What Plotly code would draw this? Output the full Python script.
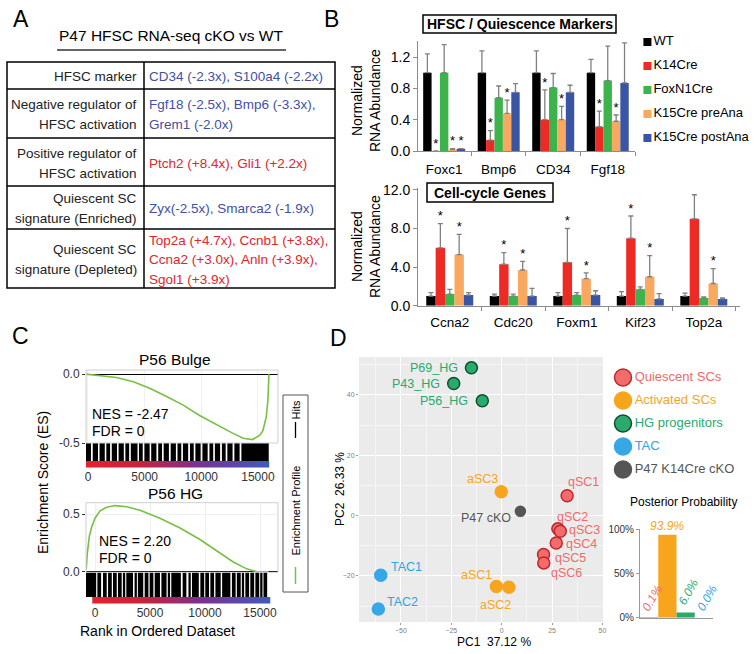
import plotly.graph_objects as go

FONT = "Liberation Sans, Arial, sans-serif"
W, H = 754, 654


def px(x):
    return x / W


def py(y):
    return 1 - y / H


# ---------------- data ----------------
# panel A table
table_left = [["HFSC marker"],
              ["Negative regulator of", "HFSC activation"],
              ["Positive regulator of", "HFSC activation"],
              ["Quiescent SC", "signature (Enriched)"],
              ["Quiescent SC", "signature (Depleted)"]]
table_right = [["CD34 (-2.3x), S100a4 (-2.2x)"],
               ["Fgf18 (-2.5x), Bmp6 (-3.3x),", "Grem1 (-2.0x)"],
               ["Ptch2 (+8.4x), Gli1 (+2.2x)"],
               ["Zyx(-2.5x), Smarca2 (-1.9x)"],
               ["Top2a (+4.7x), Ccnb1 (+3.8x),", "Ccna2 (+3.0x), Anln (+3.9x),", "Sgol1 (+3.9x)"]]
table_dir = ["down", "down", "up", "down", "up"]

# panel B
series = ["WT", "K14Cre", "FoxN1Cre", "K15Cre preAna", "K15Cre postAna"]
series_colors = ["#000000", "#EE2A24", "#3CB44B", "#F9A860", "#3A55A4"]

top_genes = ["Foxc1", "Bmp6", "CD34", "Fgf18"]
top_vals = [[1.0, 1.0, 1.0, 1.0],
            [0.0, 0.14, 0.40, 0.31],
            [1.0, 0.68, 0.81, 0.90],
            [0.02, 0.48, 0.40, 0.38],
            [0.03, 0.75, 0.75, 0.87]]
top_err = [[1.24, 1.28, 1.28, 1.17],
           [None, 0.26, 0.78, 0.51],
           [1.36, 0.83, 0.99, 1.34],
           [0.03, 0.65, 0.57, 0.46],
           [0.03, 0.86, 0.84, 1.38]]
top_star = [[0, 0, 0, 0], [1, 1, 1, 1], [0, 0, 0, 0], [1, 1, 1, 1], [1, 0, 0, 0]]

cc_genes = ["Ccna2", "Cdc20", "Foxm1", "Kif23", "Top2a"]
cc_vals = [[1.0, 1.0, 1.0, 1.0, 1.0],
           [6.0, 4.3, 4.5, 7.0, 9.0],
           [1.2, 1.0, 1.1, 1.7, 0.8],
           [5.3, 3.7, 2.8, 3.0, 2.3],
           [1.1, 1.0, 1.1, 0.7, 0.7]]
cc_err = [[1.35, 1.2, 1.35, 1.45, 1.3],
          [8.5, 5.5, 8.0, 9.3, 11.5],
          [1.7, 1.2, 1.35, 1.95, 0.9],
          [7.4, 4.6, 3.4, 5.2, 3.85],
          [1.35, 1.8, 1.55, 1.25, 0.8]]
cc_star = [[0] * 5, [1] * 5, [0] * 5, [1] * 5, [0] * 5]

# panel C: GSEA running enrichment score + hits
rank_ticks = [0, 5000, 10000, 15000]
bulge_rank = [-180, 1000, 2500, 4000, 5400, 6900, 8400, 9850, 11300, 12800,
              13700, 14500, 15150, 15440, 15735, 15880, 15970]
bulge_es = [0.0, -0.01, -0.025, -0.055, -0.10, -0.16, -0.225, -0.30, -0.365, -0.43,
            -0.465, -0.475, -0.445, -0.41, -0.31, -0.19, 0.0]
bulge_hits = [-100, 30, 160, 520, 650, 780, 1120, 1250, 1380, 1720, 1850, 2200, 2330,
              2460, 2800, 2930, 3060, 3400, 3530, 3880, 4010, 4140, 4270, 4600, 4730,
              5080, 5210, 5340, 5680, 5810, 5940, 6300, 6430, 6780, 6910, 7040, 7400,
              7530, 7660, 8000, 8130, 8480, 8610, 8740, 9100, 9230, 9580, 9710, 9840,
              10200, 10330, 10460, 10820, 10950, 11300, 11430, 11560, 11920, 12050,
              12400, 12530, 12660, 13020, 13150, 13280, 13640, 13770, 13900, 14030,
              14160, 14290, 14420, 14550, 14680, 14810, 14940, 15070, 15200, 15330,
              15460, 15590, 15720, 15850]

hg_rank = [-800, -700, -515, -300, 0, 455, 1060, 1820, 2880, 4090, 5900, 7730,
           9540, 11060, 12570, 13790, 14700, 15760]
hg_es = [0.02, 0.16, 0.31, 0.39, 0.465, 0.53, 0.56, 0.575, 0.565, 0.535, 0.465,
         0.38, 0.28, 0.18, 0.085, 0.025, 0.0, 0.0]
hg_hits = [-750, -620, -490, -360, -230, -100, 0, 320, 450, 830, 960, 1290, 1420,
           1740, 1870, 2190, 2320, 2640, 2950, 3080, 3210, 3350, 3700, 4000, 4130,
           4280, 4620, 4750, 5070, 5200, 5530, 5660, 5800, 6140, 6270, 6400, 6720,
           7040, 7170, 7300, 7430, 7560, 7700, 8070, 8200, 8600, 8920, 9050, 9180,
           9330, 9680, 9820, 10130, 10260, 10590, 10720, 11050, 11180, 11320, 11660,
           11790, 11920, 12050, 12200, 12550, 12680, 13000, 13140, 13450, 13770,
           13900, 14220, 14360, 14680, 14820, 15120, 15420, 15545]

gradient_ranks = list(range(-150, 16000, 200))

# panel D: PCA
groups = ["Quiescent SCs", "Activated SCs", "HG progenitors", "TAC", "P47 K14Cre cKO"]
pca_names = [["qSC1", "qSC2", "qSC3", "qSC4", "qSC5", "qSC6"],
             ["aSC1", "aSC2", "aSC3"],
             ["P69_HG", "P43_HG", "P56_HG"],
             ["TAC1", "TAC2"],
             ["P47 cKO"]]
pca_pc1 = [[32.5, 27.9, 29.1, 27.1, 20.8, 20.9],
           [-2.6, 3.6, -0.2],
           [-15.0, -23.8, -9.6],
           [-60.0, -61.2],
           [9.3]]
pca_pc2 = [[6.6, -4.4, -5.2, -9.1, -12.9, -15.7],
           [-23.5, -23.8, 7.9],
           [49.0, 43.8, 38.1],
           [-19.8, -31.0],
           [1.4]]

posterior_groups = ["Quiescent SCs", "Activated SCs", "HG progenitors", "TAC"]
posterior_pct = [0.1, 93.9, 6.0, 0.0]

# ---------------- styles ----------------
blue_txt = "#3F51A3"
red_txt = "#E5232B"
grp_fill = ["#F26C6C", "#F8A51E", "#2BAA6E", "#37A7E6", "#555555"]
grp_line = ["#C0272D", "#F8A51E", "#0E4F2E", "#37A7E6", "#555555"]
grp_text = ["#F06A6A", "#F5A623", "#2AAA6E", "#2FA4E0", "#555555"]
grp_size = [12, 12, 12, 12, 10]
axis_line = "#8C8C8C"
gsea_green = "#77C043"

# label placement (xanchor, xshift, yshift) for PCA points
label_pos = {
    "P69_HG": ("right", -11, 0), "P43_HG": ("right", -12, 0), "P56_HG": ("right", -12, 0),
    "aSC3": ("right", -1, 13), "P47 cKO": ("right", -7, -7),
    "TAC1": ("left", 8, 8), "TAC2": ("left", 7, 7),
    "aSC1": ("right", -2, 11), "aSC2": ("center", -13, -18),
    "qSC1": ("left", -1, 14), "qSC2": ("left", -3, 12), "qSC3": ("left", 7, 1),
    "qSC4": ("left", 8, -1), "qSC5": ("left", 9, -4), "qSC6": ("left", 5, -10),
}

fig = go.Figure()
ann = []
shapes = []


def txt(x, y, s, size=13, color="black", xanchor="center", yanchor="middle", angle=0, **kw):
    ann.append(dict(x=px(x), y=py(y), xref="paper", yref="paper", text=s, showarrow=False,
                    xanchor=xanchor, yanchor=yanchor, textangle=angle,
                    font=dict(family=FONT, size=size, color=color, **kw.pop("font", {})), **kw))


# ---------------- panel A ----------------
txt(21, 19, "A", size=23)
txt(171, 35, "P47 HFSC RNA-seq cKO vs WT", size=15.5)
shapes.append(dict(type="line", xref="paper", yref="paper", x0=px(57), x1=px(286),
                   y0=py(50), y1=py(50), line=dict(color="#333", width=1.5)))
row_edges = [62, 89, 138, 186, 229, 288]
shapes.append(dict(type="rect", xref="paper", yref="paper", x0=px(7), x1=px(335),
                   y0=py(288), y1=py(62), line=dict(color="black", width=1.5)))
shapes.append(dict(type="line", xref="paper", yref="paper", x0=px(144), x1=px(144),
                   y0=py(288), y1=py(62), line=dict(color="black", width=1.5)))
for e in row_edges[1:-1]:
    shapes.append(dict(type="line", xref="paper", yref="paper", x0=px(7), x1=px(335),
                       y0=py(e), y1=py(e), line=dict(color="black", width=1.5)))
for i in range(len(table_left)):
    mid = (row_edges[i] + row_edges[i + 1]) / 2 + 1
    col = blue_txt if table_dir[i] == "down" else red_txt
    for j, line in enumerate(table_left[i]):
        yy = mid + (j - (len(table_left[i]) - 1) / 2) * 20
        txt(139, yy, line, size=13.5, color="#222", xanchor="right")
    for j, line in enumerate(table_right[i]):
        yy = mid + (j - (len(table_right[i]) - 1) / 2) * 19.5
        txt(147, yy, line, size=13.5, color=col, xanchor="left")

# ---------------- panel B ----------------
txt(331, 19, "B", size=23)


def add_bars(vals, errs, stars, xa, ya, bw):
    for s in range(len(series)):
        n = len(vals[s])
        xs = [g + (s - 2) * bw for g in range(n)]
        arr = [None if e is None else e - v for v, e in zip(vals[s], errs[s])]
        fig.add_trace(go.Bar(x=xs, y=vals[s], width=bw, marker=dict(color=series_colors[s], line=dict(width=0)),
                             error_y=dict(type="data", array=arr, arrayminus=[0] * n, symmetric=False,
                                          color="#808080", thickness=1.3, width=2.5),
                             xaxis=xa, yaxis=ya, hoverinfo="skip"))
        sx = [x for x, f in zip(xs, stars[s]) if f]
        sy = [(e if e is not None else v) for v, e, f in zip(vals[s], errs[s], stars[s]) if f]
        if sx:
            fig.add_trace(go.Scatter(x=sx, y=sy, mode="text", text=["*"] * len(sx),
                                     textposition="top center", textfont=dict(size=13, color="black"),
                                     xaxis=xa, yaxis=ya, hoverinfo="skip"))


add_bars(top_vals, top_err, top_star, "x", "y", 0.154)
add_bars(cc_vals, cc_err, cc_star, "x2", "y2", 0.148)

# title boxes
shapes.append(dict(type="rect", xref="paper", yref="paper", x0=px(423), x1=px(616), y0=py(33), y1=py(15),
                   line=dict(color="black", width=1.5), fillcolor="white"))
txt(519.5, 24.5, "<b>HFSC / Quiescence Markers</b>", size=14)
shapes.append(dict(type="rect", xref="paper", yref="paper", x0=px(427), x1=px(553), y0=py(202), y1=py(183),
                   line=dict(color="black", width=1.5), fillcolor="white"))
txt(490, 193, "<b>Cell-cycle Genes</b>", size=14)
txt(366, 101, "Normalized<br>RNA Abundance", size=14, angle=-90)
txt(366, 247, "Normalized<br>RNA Abundance", size=14, angle=-90)

# legend for B
fig.add_trace(go.Scatter(x=[0.065] * len(series), y=list(range(len(series))), mode="markers+text",
                         marker=dict(symbol="square", size=8, color=series_colors),
                         text=series, textposition="middle right", textfont=dict(size=13, color="black"),
                         xaxis="x12", yaxis="y12", hoverinfo="skip"))

# ---------------- panel C ----------------
txt(20, 336, "C", size=23)


def barcode(ranks):
    xs, ys = [], []
    for r in ranks:
        xs += [r, r, None]
        ys += [0, 1, None]
    return xs, ys


grad_scale = [[0, "#E8202A"], [0.3, "#C2243F"], [0.6, "#7E2F92"], [1, "#3E5CB8"]]
for rank, es, hits, xa, ya, yh, yg in [(bulge_rank, bulge_es, bulge_hits, "x3", "y3", "y4", "y5"),
                                        (hg_rank, hg_es, hg_hits, "x6", "y6", "y7", "y8")]:
    fig.add_trace(go.Scatter(x=rank, y=es, mode="lines", line=dict(color=gsea_green, width=1.6),
                             xaxis=xa, yaxis=ya, hoverinfo="skip"))
    hx, hy = barcode(hits)
    fig.add_trace(go.Scatter(x=hx, y=hy, mode="lines", line=dict(color="black", width=2.3),
                             xaxis=xa, yaxis=yh, hoverinfo="skip"))
    grad = [r for r in gradient_ranks if r >= rank[0] - 100]
    fig.add_trace(go.Heatmap(x=grad, y=[0], z=[grad],
                             colorscale=grad_scale, zmin=0, zmax=15900, showscale=False,
                             xaxis=xa, yaxis=yg, hoverinfo="skip"))
    shapes.append(dict(type="rect", xref=xa + " domain", yref=ya + " domain", x0=0, x1=1, y0=0, y1=1,
                       line=dict(color="#CFCFCF", width=1)))

txt(175, 359, "P56 Bulge", size=15.5)
txt(175, 494, "P56 HG", size=15.5)
txt(90, 414, "NES = -2.47", size=14, xanchor="left")
txt(90, 431, "FDR = 0", size=14, xanchor="left")
txt(97, 541, "NES = 2.20", size=14, xanchor="left")
txt(97, 558, "FDR = 0", size=14, xanchor="left")
txt(43, 483, "Enrichment Score (ES)", size=14, angle=-90)
txt(157, 631, "Rank in Ordered Dataset", size=14)

# legend box for C
shapes.append(dict(type="rect", xref="paper", yref="paper", x0=px(283), x1=px(308), y0=py(592), y1=py(395),
                   line=dict(color="#555", width=1)))
txt(295.5, 410, "Hits", size=11, angle=-90)
shapes.append(dict(type="line", xref="paper", yref="paper", x0=px(295.5), x1=px(295.5), y0=py(422), y1=py(438),
                   line=dict(color="black", width=1.3)))
txt(295.5, 511, "Enrichment Profile", size=11, angle=-90)
shapes.append(dict(type="line", xref="paper", yref="paper", x0=px(295.5), x1=px(295.5), y0=py(567), y1=py(584),
                   line=dict(color=gsea_green, width=1.5)))

# ---------------- panel D ----------------
txt(338, 338, "D", size=23)
shapes.append(dict(type="rect", xref="x9 domain", yref="y9 domain", x0=0, x1=1, y0=0, y1=1,
                   fillcolor="#EBEBEB", line=dict(width=0), layer="below"))
for g in range(len(groups)):
    fig.add_trace(go.Scatter(x=pca_pc1[g], y=pca_pc2[g], mode="markers",
                             marker=dict(size=grp_size[g], color=grp_fill[g],
                                         line=dict(color=grp_line[g], width=1.5)),
                             xaxis="x9", yaxis="y9", hoverinfo="skip"))
    for name, x, y in zip(pca_names[g], pca_pc1[g], pca_pc2[g]):
        xa, xs, ys = label_pos[name]
        ann.append(dict(x=x, y=y, xref="x9", yref="y9", text=name, showarrow=False,
                        xanchor=xa, yanchor="middle", xshift=xs, yshift=ys,
                        font=dict(family=FONT, size=12.5, color=grp_text[g])))

txt(494, 642, "PC1  37.12 %", size=12)
txt(340, 489, "PC2  26.33 %", size=12, angle=-90)

# legend for D
fig.add_trace(go.Scatter(x=[0.0775] * len(groups), y=list(range(len(groups))), mode="markers+text",
                         marker=dict(size=17, color=grp_fill, line=dict(color=grp_line, width=1.5)),
                         text=groups, textposition="middle right",
                         textfont=dict(size=13, color=grp_text),
                         xaxis="x10", yaxis="y10", hoverinfo="skip"))

# posterior probability
fig.add_trace(go.Bar(x=posterior_groups, y=posterior_pct, width=1,
                     marker=dict(color=grp_fill[:4], line=dict(width=0)),
                     xaxis="x11", yaxis="y11", hoverinfo="skip"))
for g, v in enumerate(posterior_pct):
    lab = f"{v:.1f}%"
    if v > 50:
        ann.append(dict(x=posterior_groups[g], y=v, xref="x11", yref="y11", text=lab, showarrow=False,
                        xanchor="center", yanchor="bottom", yshift=0,
                        font=dict(family=FONT, size=12, color=grp_text[g], style="italic")))
    else:
        ann.append(dict(x=posterior_groups[g], y=v, xref="x11", yref="y11", text=lab, showarrow=False,
                        xanchor="center", yanchor="middle", xshift=3, yshift=20, textangle=-60,
                        font=dict(family=FONT, size=12, color=grp_text[g], style="italic")))
txt(683, 502, "Posterior Probability", size=12)

# ---------------- axes ----------------
hidden = dict(visible=False, showgrid=False, zeroline=False)
c_tick = dict(size=12, color="#333")
fig.update_layout(
    width=W, height=654, margin=dict(l=0, r=0, t=0, b=0),
    paper_bgcolor="white", plot_bgcolor="white", barmode="overlay", showlegend=False,
    font=dict(family=FONT, color="black"),
    xaxis=dict(domain=[px(418), px(635)], anchor="y", range=[-0.48, 3.5], tickmode="array",
               tickvals=list(range(4)), ticktext=top_genes, ticks="", showgrid=False, zeroline=False,
               showline=True, linecolor=axis_line, tickfont=dict(size=13.5), ticklabelstandoff=6,
               minor=dict(tickmode="array", tickvals=[0.5, 1.5, 2.5, 3.5], ticks="outside",
                          ticklen=4, tickcolor=axis_line)),
    yaxis=dict(domain=[py(151), py(41.4)], anchor="x", range=[0, 1.4], tickmode="array",
               tickvals=[0, 0.4, 0.8, 1.2], tickformat=".1f", ticks="outside", ticklen=4,
               tickcolor=axis_line, showline=True, linecolor=axis_line, showgrid=False, zeroline=False,
               tickfont=dict(size=14)),
    xaxis2=dict(domain=[px(418), px(740)], anchor="y2", range=[-0.5, 4.57], tickmode="array",
                tickvals=list(range(5)), ticktext=cc_genes, ticks="", showgrid=False, zeroline=False,
                showline=True, linecolor=axis_line, tickfont=dict(size=13.5), ticklabelstandoff=4,
                minor=dict(tickmode="array", tickvals=[0.5, 1.5, 2.5, 3.5, 4.5], ticks="outside",
                           ticklen=4, tickcolor=axis_line)),
    yaxis2=dict(domain=[py(305.7), py(188)], anchor="x2", range=[0, 12.2], tickmode="array",
                tickvals=[0, 4, 8, 12], tickformat=".1f", ticks="outside", ticklen=4,
                tickcolor=axis_line, showline=True, linecolor=axis_line, showgrid=False, zeroline=False,
                tickfont=dict(size=14)),
    xaxis3=dict(domain=[px(86), px(278)], anchor="y5", range=[-176, 16770], tickmode="array",
                tickvals=rank_ticks, ticktext=[str(t) for t in rank_ticks], ticks="",
                showgrid=True, gridcolor="#F0F0F0", zeroline=False, tickfont=c_tick),
    yaxis3=dict(domain=[py(443), py(370)], anchor="x3", range=[-0.5, 0.03], tickmode="array",
                tickvals=[0, -0.5], ticktext=["0.0", "-0.5"], ticks="outside", ticklen=3,
                tickcolor="#333", showgrid=True, gridcolor="#F0F0F0", zeroline=True,
                zerolinecolor="black", zerolinewidth=1.2, tickfont=c_tick),
    yaxis4=dict(domain=[py(461), py(443)], anchor="x3", range=[0, 1], **hidden),
    yaxis5=dict(domain=[py(467.5), py(461)], anchor="x3", range=[-0.5, 0.5], **hidden),
    xaxis6=dict(domain=[px(86), px(278)], anchor="y8", range=[-820, 16634], tickmode="array",
                tickvals=rank_ticks, ticktext=[str(t) for t in rank_ticks], ticks="",
                showgrid=True, gridcolor="#F0F0F0", zeroline=False, tickfont=c_tick),
    yaxis6=dict(domain=[py(572.3), py(502.7)], anchor="x6", range=[-0.005, 0.6], tickmode="array",
                tickvals=[0, 0.5], ticktext=["0.0", "0.5"], ticks="outside", ticklen=3,
                tickcolor="#333", showgrid=True, gridcolor="#F0F0F0", zeroline=True,
                zerolinecolor="black", zerolinewidth=1.2, tickfont=c_tick),
    yaxis7=dict(domain=[py(597), py(572.3)], anchor="x6", range=[0, 1], **hidden),
    yaxis8=dict(domain=[py(603.5), py(597)], anchor="x6", range=[-0.5, 0.5], **hidden),
    xaxis9=dict(domain=[px(359), px(603)], anchor="y9", range=[-70.8, 50.3], tickmode="linear",
                tick0=0, dtick=25, ticks="outside", ticklen=2, tickcolor="#999",
                showgrid=True, gridcolor="white", gridwidth=1.1, zeroline=False,
                tickfont=dict(size=7, color="#7F7F7F"),
                minor=dict(dtick=12.5, tick0=0, showgrid=True, gridcolor="#F5F5F5", gridwidth=0.6)),
    yaxis9=dict(domain=[py(622), py(357)], anchor="x9", range=[-35.3, 52.6], tickmode="linear",
                tick0=0, dtick=20, ticks="outside", ticklen=2, tickcolor="#999",
                showgrid=True, gridcolor="white", gridwidth=1.1, zeroline=False,
                tickfont=dict(size=7, color="#7F7F7F"),
                minor=dict(dtick=10, tick0=0, showgrid=True, gridcolor="#F5F5F5", gridwidth=0.6)),
    xaxis10=dict(domain=[px(612), 1], anchor="y10", range=[0, 1], **hidden),
    yaxis10=dict(domain=[py(481), py(366)], anchor="x10", range=[4.5, -0.5], **hidden),
    xaxis11=dict(domain=[px(640), px(713)], anchor="y11", type="category", range=[-0.5, 3.5],
                 showticklabels=False, ticks="", showline=True, linecolor="#999", showgrid=False),
    yaxis11=dict(domain=[py(617.7), py(529.3)], anchor="x11", range=[0, 100], tickmode="array",
                 tickvals=[0, 50, 100], ticktext=["0%", "50%", "100%"], ticks="outside", ticklen=3,
                 tickcolor="#999", showline=True, linecolor="#999", showgrid=False, zeroline=False,
                 tickfont=dict(size=10, color="#333")),
    xaxis12=dict(domain=[px(640), 1], anchor="y12", range=[0, 1], **hidden),
    yaxis12=dict(domain=[py(150), py(30)], anchor="x12", range=[4.5, -0.5], **hidden),
    annotations=ann,
    shapes=shapes,
)
# the default template pushes margins out for tick labels; keep every domain in exact pixels
fig.update_xaxes(automargin=False)
fig.update_yaxes(automargin=False)

# the page body has a default 8px margin; drop it so the figure sits at the window origin
fig.write_html("out.html", post_script="document.body.style.margin='0';",
               config={"displayModeBar": False})
